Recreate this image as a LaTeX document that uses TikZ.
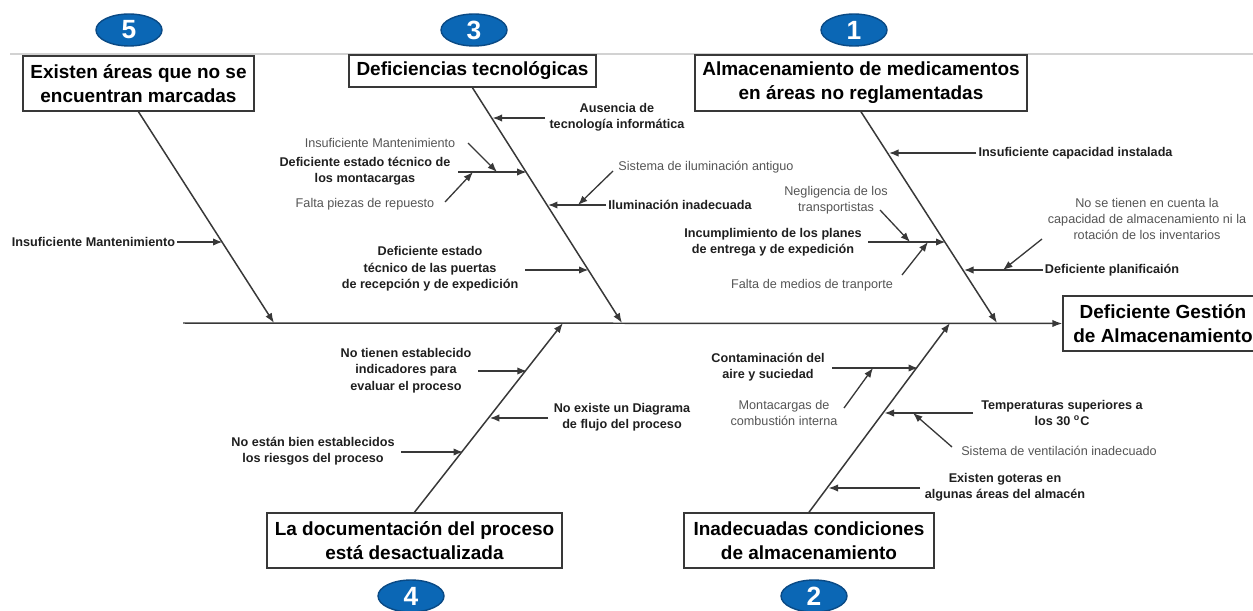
\documentclass[tikz,border=0pt]{standalone}
\usepackage{fontspec}
\setmainfont{Liberation Sans}
\usetikzlibrary{arrows.meta,shapes.geometric}
\definecolor{linegray}{HTML}{383838}
\definecolor{subgray}{HTML}{555555}
\definecolor{numblue}{HTML}{0B67B5}
\definecolor{numedge}{HTML}{0A4A85}
\definecolor{rulegray}{HTML}{D2D2D2}

\begin{document}
\begin{tikzpicture}[x=0.02cm, y=-0.02cm,
    box/.style={draw=linegray, line width=0.9pt, fill=white, align=center, inner sep=0pt,
        font=\bfseries\fontsize{10.8}{13.6}\selectfont},
    cause/.style={align=center, inner sep=1pt, text=black!88, font=\bfseries\fontsize{7.2}{9.3}\selectfont},
    subcause/.style={align=center, inner sep=1pt, text=subgray, font=\fontsize{7.2}{9.3}\selectfont},
    num/.style={ellipse, draw=numedge, line width=0.8pt, fill=numblue, text=white, inner sep=0pt,
        minimum width=1.32cm, minimum height=0.64cm, font=\bfseries\fontsize{15}{15}\selectfont},
    bone/.style={draw=linegray, line width=0.85pt, -{Latex[length=5.6pt,width=4.2pt]}},
    arr/.style={draw=linegray, line width=0.75pt, -{Latex[length=5.4pt,width=4.2pt]}}
]
    \clip (0,0) rectangle (1253,611);
    \draw[rulegray, line width=0.6pt] (10,54) -- (1253,54);

    % numbers
    \node[num] (n5) at (129,30) {5};
    \node[num] (n3) at (474,30) {3};
    \node[num] (n1) at (854,30) {1};
    \node[num] (n4) at (411,596) {4};
    \node[num] (n2) at (814,596) {2};

    % boxes
    \node[box, minimum width=4.62cm, minimum height=1.1cm] (b5) at (138.5,83.5) {Existen áreas que no se\\encuentran marcadas};
    \node[box, minimum width=4.94cm, minimum height=0.64cm] (b3) at (472.5,71) {Deficiencias tecnológicas};
    \node[box, minimum width=6.64cm, minimum height=1.12cm] (b1) at (861,83) {Almacenamiento de medicamentos\\en áreas no reglamentadas};
    \node[box, minimum width=5.9cm, minimum height=1.1cm] (b4) at (414.5,540.5) {La documentación del proceso\\está desactualizada};
    \node[box, minimum width=5cm, minimum height=1.1cm] (b2) at (809,540.5) {Inadecuadas condiciones\\de almacenamiento};
    \node[box, minimum width=4cm, minimum height=1.1cm] (head) at (1163,323.5) {Deficiente Gestión\\de Almacenamiento};

    % spine and bones
    \coordinate (tail) at (183,323);
    \coordinate (s5) at (274,323);
    \coordinate (s3) at (622,323);
    \coordinate (s1) at (997,323);
    \coordinate (s4) at (563,323);
    \coordinate (s2) at (950,323);
    \draw[bone] (tail) -- (head.west);
    \draw[bone] (b5.south) -- (s5);
    \draw[bone] (b3.south) -- (s3);
    \draw[bone] (b1.south) -- (s1);
    \draw[bone] (b4.north) -- (s4);
    \draw[bone] (b2.north) -- (s2);

    % 5
    \node[cause] (c5a) at (93.5,242) {Insuficiente Mantenimiento};
    \coordinate (t5a) at (222.5,242);
    \draw[arr] (c5a.east) -- (t5a);

    % 3
    \node[cause] (c3a) at (617,117) {Ausencia de\\tecnología informática};
    \node[cause] (c3b) at (365,171) {Deficiente estado técnico de\\los montacargas};
    \node[subcause] (d3b1) at (380,143) {Insuficiente Mantenimiento};
    \node[subcause] (d3b2) at (365,204) {Falta piezas de repuesto};
    \node[cause] (c3c) at (680,205) {Iluminación inadecuada};
    \node[subcause] (d3c1) at (706,167) {Sistema de iluminación antiguo};
    \node[cause] (c3d) at (430,269) {Deficiente estado\\técnico de las puertas\\de recepción y de expedición};
    \coordinate (f3a) at (545,118);   \coordinate (t3a) at (492.6,118);
    \coordinate (f3b) at (458,172);   \coordinate (t3b) at (526.6,172);
    \coordinate (f3b1) at (468,143);  \coordinate (t3b1) at (497,172);
    \coordinate (f3b2) at (445,202);  \coordinate (t3b2) at (473,172);
    \coordinate (t3c) at (548,205);
    \coordinate (f3c1) at (613,171);  \coordinate (t3c1) at (578,205);
    \coordinate (f3d) at (525,270);   \coordinate (t3d) at (588.5,270);
    \draw[arr] (f3a) -- (t3a);
    \draw[arr] (f3b) -- (t3b);
    \draw[arr] (f3b1) -- (t3b1);
    \draw[arr] (f3b2) -- (t3b2);
    \draw[arr] (c3c.west) -- (t3c);
    \draw[arr] (f3c1) -- (t3c1);
    \draw[arr] (f3d) -- (t3d);

    % 1
    \node[cause] (c1a) at (1075.5,153) {Insuficiente capacidad instalada};
    \node[cause] (c1b) at (773,242) {Incumplimiento de los planes\\de entrega y de expedición};
    \node[subcause] (d1b1) at (836,200.5) {Negligencia de los\\transportistas};
    \node[subcause] (d1b2) at (812,285) {Falta de medios de tranporte};
    \node[cause] (c1c) at (1112,270) {Deficiente planificaión};
    \node[subcause] (d1c1) at (1147,219) {No se tienen en cuenta la\\capacidad de almacenamiento ni la\\rotación de los inventarios};
    \coordinate (t1a) at (889,153);
    \coordinate (f1b) at (868,242);   \coordinate (t1b) at (945.5,242);
    \coordinate (f1b1) at (880,210);  \coordinate (t1b1) at (910,242);
    \coordinate (f1b2) at (902,275);  \coordinate (t1b2) at (928,242);
    \coordinate (t1c) at (964,270);
    \coordinate (f1c1) at (1042,239); \coordinate (t1c1) at (1003,270);
    \draw[arr] (c1a.west) -- (t1a);
    \draw[arr] (f1b) -- (t1b);
    \draw[arr] (f1b1) -- (t1b1);
    \draw[arr] (f1b2) -- (t1b2);
    \draw[arr] (c1c.west) -- (t1c);
    \draw[arr] (f1c1) -- (t1c1);

    % 4
    \node[cause] (c4a) at (406,370.5) {No tienen establecido\\indicadores para\\evaluar el proceso};
    \node[cause] (c4b) at (622,417.5) {No existe un Diagrama\\de flujo del proceso};
    \node[cause] (c4c) at (313,451) {No están bien establecidos\\los riesgos del proceso};
    \coordinate (f4a) at (478,371);   \coordinate (t4a) at (526.8,371);
    \coordinate (f4b) at (548,418);   \coordinate (t4b) at (489.8,418);
    \coordinate (f4c) at (401,452);   \coordinate (t4c) at (463,452);
    \draw[arr] (f4a) -- (t4a);
    \draw[arr] (f4b) -- (t4b);
    \draw[arr] (f4c) -- (t4c);

    % 2
    \node[cause] (c2a) at (768,367) {Contaminación del\\aire y suciedad};
    \node[subcause] (d2a1) at (784,413) {Montacargas de\\combustión interna};
    \node[cause] (c2b) at (1062,413) {Temperaturas superiores a\\los 30 \textsuperscript{o}C};
    \node[subcause] (d2b1) at (1059,451) {Sistema de ventilación inadecuado};
    \node[cause] (c2c) at (1005,487) {Existen goteras en\\algunas áreas del almacén};
    \coordinate (f2a) at (832,368);   \coordinate (t2a) at (918,368);
    \coordinate (f2a1) at (844,408);  \coordinate (t2a1) at (873,368);
    \coordinate (f2b) at (973,413);   \coordinate (t2b) at (884.5,413);
    \coordinate (f2b1) at (952,447);  \coordinate (t2b1) at (913,413);
    \coordinate (f2c) at (920,488);   \coordinate (t2c) at (828.6,488);
    \draw[arr] (f2a) -- (t2a);
    \draw[arr] (f2a1) -- (t2a1);
    \draw[arr] (f2b) -- (t2b);
    \draw[arr] (f2b1) -- (t2b1);
    \draw[arr] (f2c) -- (t2c);
\end{tikzpicture}
\end{document}
